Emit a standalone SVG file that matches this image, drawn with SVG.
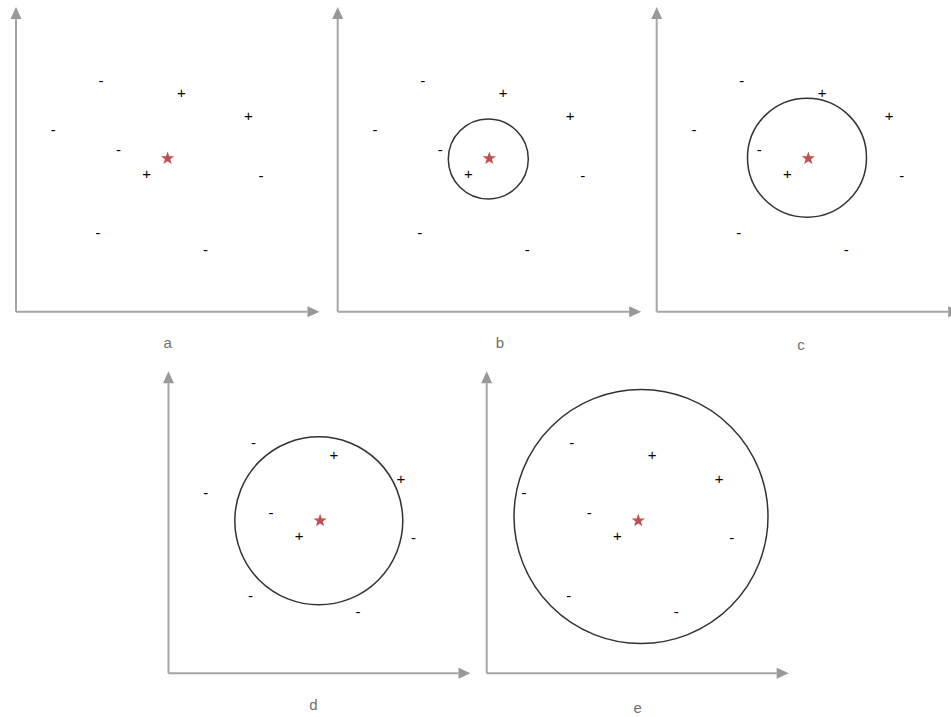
<svg xmlns="http://www.w3.org/2000/svg" width="951" height="717" viewBox="0 0 951 717">
<style>
.ax{stroke:#a6a6a6;stroke-width:2;fill:none}
.pt{font-family:"Liberation Sans",Arial,sans-serif;font-size:15px;fill:#000;text-anchor:middle}
.lb{font-family:"Liberation Sans",Arial,sans-serif;font-size:15px;fill:#707070;text-anchor:middle}
.ci{stroke:#333;stroke-width:1.5;fill:none}
.st{fill:#c0504d}
</style>
<defs>
<marker id="arr" markerUnits="userSpaceOnUse" markerWidth="12" markerHeight="11" refX="0" refY="5.5" orient="auto" overflow="visible">
<path d="M0,0 L12,5.5 L0,11 Z" fill="#999"/>
</marker>
<path id="star" d="M0,-7 L1.65,-2.27 L6.66,-2.16 L2.66,0.87 L4.11,5.66 L0,2.8 L-4.11,5.66 L-2.66,0.87 L-6.66,-2.16 L-1.65,-2.27Z"/>
</defs>
<rect width="951" height="717" fill="#fff"/>

<g id="panel-a">
<g id="axes-a"><line class="ax" x1="16" y1="311.7" x2="16" y2="19" marker-end="url(#arr)"/><line class="ax" x1="16" y1="311.7" x2="307.5" y2="311.7" marker-end="url(#arr)"/></g>
<text class="pt" x="101" y="86">-</text>
<text class="pt" x="181.5" y="98.1">+</text>
<text class="pt" x="248.5" y="121.4">+</text>
<text class="pt" x="53.3" y="135.3">-</text>
<text class="pt" x="118.5" y="155.3">-</text>
<use href="#star" class="st" x="167.6" y="158.4"/>
<text class="pt" x="146.6" y="179.1">+</text>
<text class="pt" x="261" y="180.5">-</text>
<text class="pt" x="98" y="238.3">-</text>
<text class="pt" x="205.5" y="254.5">-</text>
<text class="lb" x="167.7" y="348">a</text>
</g>

<g id="panel-b" transform="translate(321.7,0)">
<g id="axes-b"><line class="ax" x1="16" y1="311.7" x2="16" y2="19" marker-end="url(#arr)"/><line class="ax" x1="16" y1="311.7" x2="307.5" y2="311.7" marker-end="url(#arr)"/></g>
<circle class="ci" cx="166.6" cy="159" r="40"/>
<text class="pt" x="101" y="86">-</text>
<text class="pt" x="181.5" y="98.1">+</text>
<text class="pt" x="248.5" y="121.4">+</text>
<text class="pt" x="53.3" y="135.3">-</text>
<text class="pt" x="118.5" y="155.3">-</text>
<use href="#star" class="st" x="167.6" y="158.4"/>
<text class="pt" x="146.6" y="179.1">+</text>
<text class="pt" x="261" y="180.5">-</text>
<text class="pt" x="98" y="238.3">-</text>
<text class="pt" x="205.5" y="254.5">-</text>
<text class="lb" x="178.3" y="348">b</text>
</g>

<g id="panel-c" transform="translate(640.7,0)">
<g id="axes-c"><line class="ax" x1="16" y1="311.7" x2="16" y2="19" marker-end="url(#arr)"/><line class="ax" x1="16" y1="311.7" x2="307.5" y2="311.7" marker-end="url(#arr)"/></g>
<circle class="ci" cx="166.3" cy="157.7" r="59.5"/>
<text class="pt" x="101" y="86">-</text>
<text class="pt" x="181.5" y="98.1">+</text>
<text class="pt" x="248.5" y="121.4">+</text>
<text class="pt" x="53.3" y="135.3">-</text>
<text class="pt" x="118.5" y="155.3">-</text>
<use href="#star" class="st" x="167.6" y="158.4"/>
<text class="pt" x="146.6" y="179.1">+</text>
<text class="pt" x="261" y="180.5">-</text>
<text class="pt" x="98" y="238.3">-</text>
<text class="pt" x="205.5" y="254.5">-</text>
<text class="lb" x="160.3" y="350">c</text>
</g>

<g id="panel-d" transform="translate(152.5,362.3)">
<g id="axes-d"><line class="ax" x1="16" y1="311" x2="16" y2="21" marker-end="url(#arr)"/><line class="ax" x1="16" y1="311" x2="306" y2="311" marker-end="url(#arr)"/></g>
<circle class="ci" cx="166.3" cy="158.5" r="84"/>
<text class="pt" x="101" y="86">-</text>
<text class="pt" x="181.5" y="98.1">+</text>
<text class="pt" x="248.5" y="121.4">+</text>
<text class="pt" x="53.3" y="135.3">-</text>
<text class="pt" x="118.5" y="155.3">-</text>
<use href="#star" class="st" x="167.6" y="158.4"/>
<text class="pt" x="146.6" y="179.1">+</text>
<text class="pt" x="261" y="180.5">-</text>
<text class="pt" x="98" y="238.3">-</text>
<text class="pt" x="205.5" y="254.5">-</text>
<text class="lb" x="160.8" y="347.5">d</text>
</g>

<g id="panel-e" transform="translate(470.7,362.3)">
<g id="axes-e"><line class="ax" x1="16" y1="311" x2="16" y2="21" marker-end="url(#arr)"/><line class="ax" x1="16" y1="311" x2="306" y2="311" marker-end="url(#arr)"/></g>
<circle class="ci" cx="170.3" cy="154.2" r="127"/>
<text class="pt" x="101" y="86">-</text>
<text class="pt" x="181.5" y="98.1">+</text>
<text class="pt" x="248.5" y="121.4">+</text>
<text class="pt" x="53.3" y="135.3">-</text>
<text class="pt" x="118.5" y="155.3">-</text>
<use href="#star" class="st" x="167.6" y="158.4"/>
<text class="pt" x="146.6" y="179.1">+</text>
<text class="pt" x="261" y="180.5">-</text>
<text class="pt" x="98" y="238.3">-</text>
<text class="pt" x="205.5" y="254.5">-</text>
<text class="lb" x="167" y="350.5">e</text>
</g>
</svg>
